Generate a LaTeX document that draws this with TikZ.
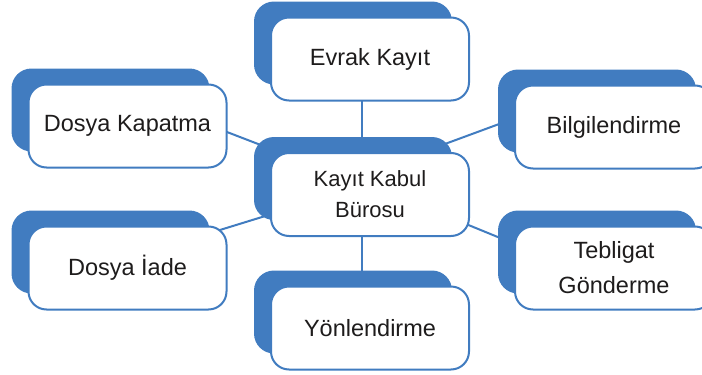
\documentclass[tikz,border=0pt]{standalone}
\usepackage{fontspec}
\setmainfont{Liberation Sans}
\usetikzlibrary{calc,backgrounds}
\definecolor{boxblue}{RGB}{65,124,192}
\definecolor{txt}{RGB}{30,28,28}
\tikzset{
  front/.style={rectangle, rounded corners=18pt, draw=boxblue, line width=2pt, fill=white,
    minimum width=198pt, minimum height=83pt, inner sep=0pt, align=center, text=txt,
    font=\fontsize{23.5}{35}\selectfont},
  back/.style={rectangle, rounded corners=20pt, fill=boxblue,
    minimum width=198pt, minimum height=83pt, inner sep=0pt},
  link/.style={draw=boxblue, line width=2pt}
}
\begin{document}
\begin{tikzpicture}[x=1pt,y=-1pt]
\useasboundingbox (0,0) rectangle (702,375);
\clip (0,0) rectangle (702,375);
% back shadows
\node[back] (evrbg) at (353,43) {};
\node[back] (kapbg) at (110.5,110) {};
\node[back] (ctrbg) at (353,178.5) {};
\node[back] (bilbg) at (597,111) {};
\node[back] (tebbg) at (597,252) {};
\node[back] (iadbg) at (110.5,252) {};
\node[back] (yonbg) at (353,312) {};
% front boxes
\node[front] (evr) at (370,59) {\raisebox{-2pt}{Evrak Kayıt}};
\node[front] (kap) at (127.5,126) {\raisebox{-2pt}{Dosya Kapatma}};
\node[front, font=\fontsize{22}{31}\selectfont] (ctr) at (370,194.5) {Kayıt Kabul\\Bürosu};
\node[front] (bil) at (614,127) {\raisebox{-2pt}{Bilgilendirme}};
\node[front] (teb) at (614,268) {Tebligat\\Gönderme};
\node[front] (iad) at (127.5,268) {\raisebox{-2pt}{Dosya İade}};
\node[front] (yon) at (370,328) {\raisebox{-2pt}{Yönlendirme}};
% connectors
\begin{scope}[on background layer]
\draw[link] ($(evr)+(-8,0)$) -- ($(ctr)+(-8,0)$);
\draw[link] ($(ctr)+(-8,0)$) -- ($(yon)+(-8,0)$);
\draw[link] ($(kap)+(87.5,1.4)$) -- ($(ctr)+(-95,-44)$);
\draw[link] ($(ctr)+(60,-45)$) -- ($(bil)+(-104,-7)$);
\draw[link] ($(ctr)+(-95,18.5)$) -- ($(iad)+(77.5,-33.4)$);
\draw[link] ($(ctr)+(85,25)$) -- ($(teb)+(-104,-26)$);
\end{scope}
\end{tikzpicture}
\end{document}
